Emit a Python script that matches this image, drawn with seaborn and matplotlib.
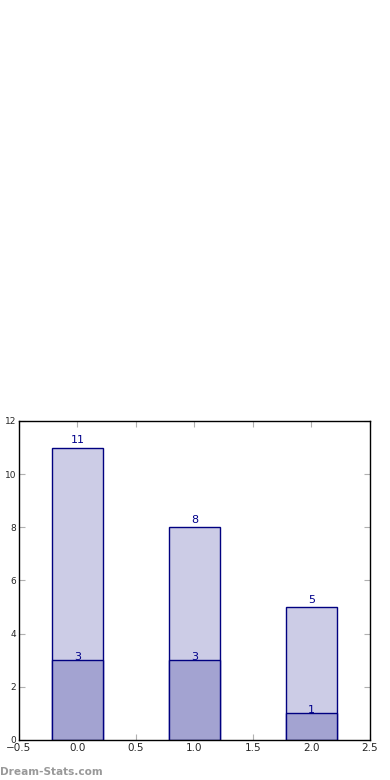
import matplotlib
matplotlib.use("Agg")
import matplotlib.pyplot as plt
import seaborn as sns
import pandas as pd

positions = [0, 1, 2]
totals = [11, 8, 5]
subset = [3, 3, 1]
xticks = [-0.5, 0.0, 0.5, 1.0, 1.5, 2.0, 2.5]
yticks = [0, 2, 4, 6, 8, 10, 12]

df = pd.DataFrame({"x": positions, "total": totals, "subset": subset})

sns.set_style("white")
plt.rcParams['font.family'] = ['DejaVu Sans']

fig = plt.figure(figsize=(3.9, 7.8), dpi=100)
ax = fig.add_axes([0.0487, 0.0513, 0.9, 0.409])

sns.barplot(data=df, x="x", y="total", native_scale=True, width=0.44,
            color="#ccccE6", edgecolor="#000080", linewidth=1.0,
            saturation=1, errorbar=None, ax=ax)
sns.barplot(data=df, x="x", y="subset", native_scale=True, width=0.44,
            color="#a3a3d1", edgecolor="#000080", linewidth=1.0,
            saturation=1, errorbar=None, ax=ax)

for xv, h in zip(positions, totals):
    ax.text(xv, h + 0.08, str(h), ha="center", va="bottom", color="#00008B", fontsize=8)
for xv, h in zip(positions, subset):
    ax.text(xv, h - 0.05, str(h), ha="center", va="bottom", color="#00008B", fontsize=8)

ax.set_xlim(-0.5, 2.5)
ax.set_ylim(0, 12)
ax.set_xticks(xticks)
ax.set_xticklabels([f"{t:.1f}".replace("-", "\u2212") for t in xticks])
ax.set_yticks(yticks)
ax.set_xlabel("")
ax.set_ylabel("")
ax.tick_params(axis="x", direction="in", length=4, color="#b0b0b0", labelsize=7.5,
               top=True, bottom=True, pad=2)
ax.tick_params(axis="y", direction="in", length=4, color="#b0b0b0", labelsize=6.5,
               left=True, right=True, pad=2)
for s in ax.spines.values():
    s.set_color("black")
    s.set_linewidth(1.0)
    s.set_visible(True)

fig.text(0.0, 0.004, "Dream-Stats.com", color="#999999", fontsize=7.6,
         fontweight="bold", ha="left", va="bottom")

fig.savefig("out.png", dpi=100)
